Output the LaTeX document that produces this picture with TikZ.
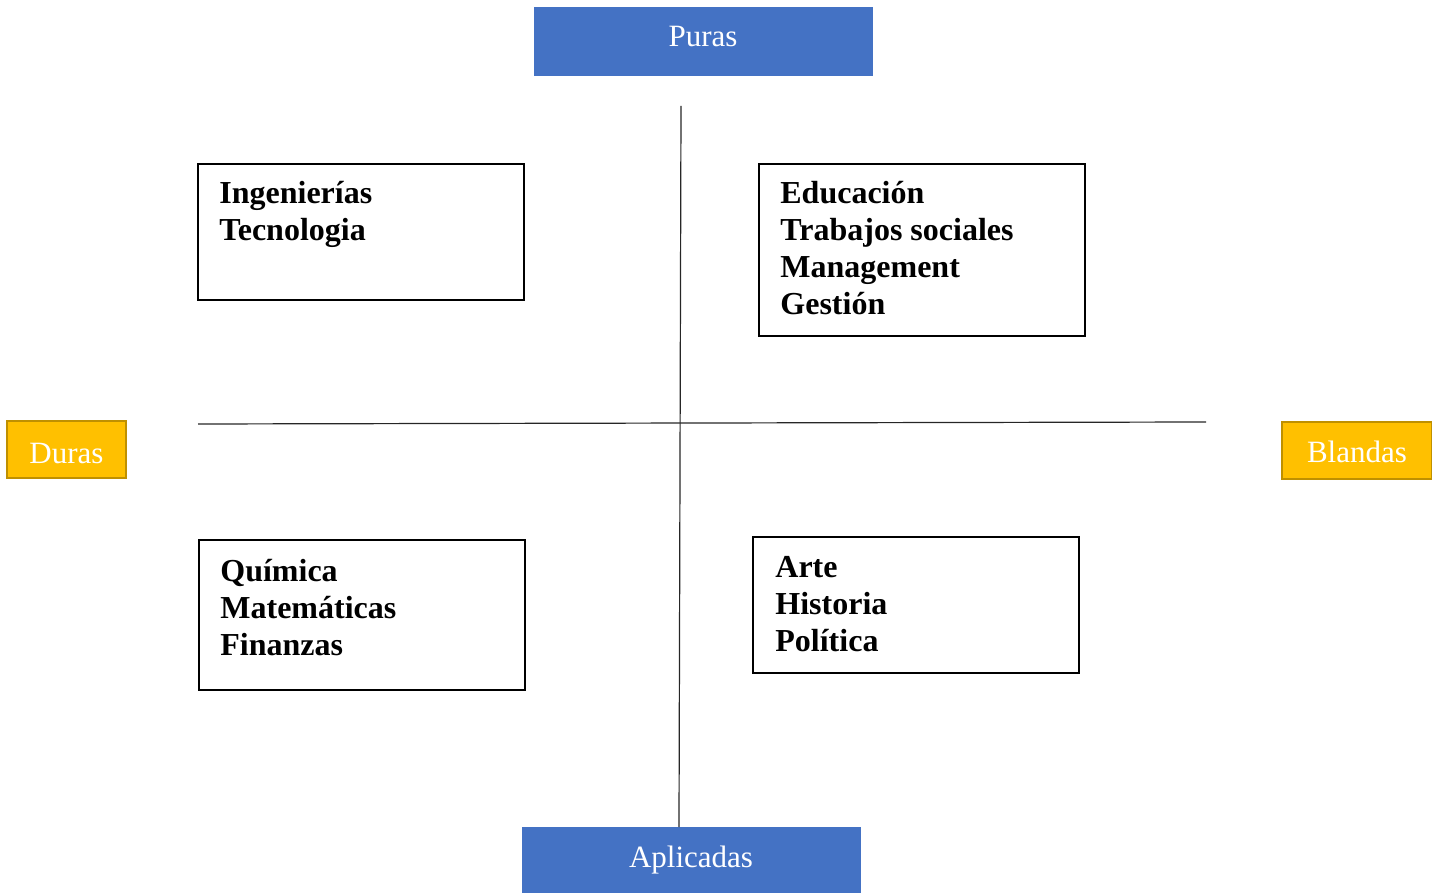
\documentclass[tikz,border=0pt]{standalone}
\usepackage{fontspec}
\setmainfont{Liberation Serif}
\definecolor{axblue}{HTML}{4472C4}
\definecolor{axgold}{HTML}{FFC000}
\definecolor{axgoldborder}{HTML}{BF9000}
\tikzset{
  bluetag/.style={fill=axblue, draw=axblue, text=white, minimum width=169pt, minimum height=34pt, inner sep=0pt, font=\fontsize{15.5}{18}\selectfont},
  goldtag/.style={fill=axgold, draw=axgoldborder, line width=1pt, text=white, inner sep=0pt, font=\fontsize{15.5}{18}\selectfont},
  fieldbox/.style={draw=black, line width=1pt, minimum width=163pt, inner sep=0pt},
  fieldtext/.style={anchor=base west, inner sep=0pt, align=left, font=\fontsize{16}{18.5}\selectfont\bfseries},
  axis/.style={draw=black!85, line width=0.6pt}
}
\begin{document}
\begin{tikzpicture}[x=0.5pt,y=-0.5pt]
\useasboundingbox (0,0) rectangle (1432,893);
% axis tags
\node[bluetag, text depth=5pt] (puras) at (703,41) {Puras};
\node[bluetag, minimum height=33pt] (aplicadas) at (691,860) {Aplicadas};
\node[goldtag, minimum width=59.5pt, minimum height=28.5pt, text height=14.3pt] (duras) at (66.5,449.5) {Duras};
\node[goldtag, minimum width=75pt, minimum height=28.5pt, text height=12.6pt] (blandas) at (1357,450.5) {Blandas};
% axes
\coordinate (vtop) at (681,106);
\coordinate (vbot) at (679,827);
\coordinate (hleft) at (198,424);
\coordinate (hright) at (1206,422);
\draw[axis] (vtop) -- (vbot);
\draw[axis] (hleft) -- (hright);
% quadrant boxes
\node[fieldbox, minimum height=68pt] (tl) at (361,232) {};
\node[fieldbox, minimum height=86pt] (tr) at (922,250) {};
\node[fieldbox, minimum height=75pt] (bl) at (362,615) {};
\node[fieldbox, minimum height=68pt] (br) at (916,605) {};
\node[fieldtext] (tltext) at (219,241) {Ingenierías\\Tecnologia};
\node[fieldtext] (trtext) at (780,315) {Educación\\Trabajos sociales\\Management\\Gestión};
\node[fieldtext] (bltext) at (220,655) {Química\\Matemáticas\\Finanzas};
\node[fieldtext] (brtext) at (775,652) {Arte\\Historia\\Política};
\end{tikzpicture}
\end{document}
